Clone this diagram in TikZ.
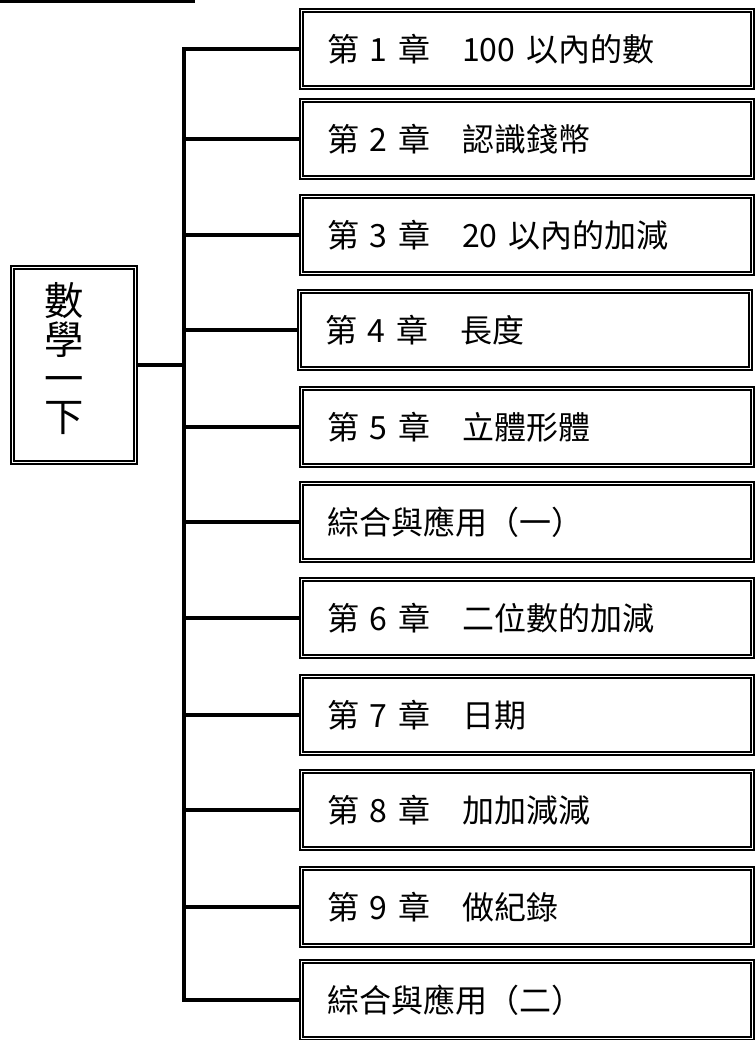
\documentclass[tikz,border=0pt]{standalone}
\usepackage{fontspec}
\newfontfamily\cjk{Noto Sans CJK TC}

\begin{document}
\begin{tikzpicture}[x=0.75pt, y=-0.75pt,
                chap/.style={draw, double, line width=1.3pt, double distance=1.2pt, rectangle, minimum width=338pt, minimum height=57.7pt, inner xsep=19pt, inner ysep=0pt, text width=300pt, align=left, font=\cjk\fontsize{24}{28}\selectfont},
                root/.style={draw, double, line width=1.3pt, double distance=1.2pt, rectangle, minimum width=92.2pt, minimum height=146.2pt, inner sep=0pt, font=\cjk\fontsize{29.5}{29}\selectfont},
                branch/.style={draw, line width=2.6pt}]
                \useasboundingbox (0,0) rectangle (756,1040);
                \draw[line width=2.5pt] (0,1.5) -- (195,1.5);
                \node[root] (root) at (74,365) {\raisebox{-50pt}[0pt][0pt]{\parbox[b]{44pt}{數\\學\\一\\下}}};
                \node[chap] (b1) at (527,49) {第 1 章　100 以內的數};
                \node[chap] (b2) at (527,139) {第 2 章　認識錢幣};
                \node[chap] (b3) at (527,235) {第 3 章　20 以內的加減};
                \node[chap] (b4) at (525,330) {第 4 章　長度};
                \node[chap] (b5) at (527,427) {第 5 章　立體形體};
                \node[chap] (b6) at (527,522) {綜合與應用（一）};
                \node[chap] (b7) at (527,618) {第 6 章　二位數的加減};
                \node[chap] (b8) at (527,715) {第 7 章　日期};
                \node[chap] (b9) at (527,810) {第 8 章　加加減減};
                \node[chap] (b10) at (527,907) {第 9 章　做紀錄};
                \node[chap] (b11) at (527,1000) {綜合與應用（二）};
                \coordinate (top) at (184,49);
                \coordinate (bot) at (184,1000);
                \draw[branch, line cap=rect] (top) -- (bot);
                \draw[branch] (root.east) -- (root.east -| top);
                \foreach \b in {b1,b2,b3,b4,b5,b6,b7,b8,b9,b10,b11}
                    \draw[branch] (\b.west) -- (\b.west -| top);
            \end{tikzpicture}
\end{document}
